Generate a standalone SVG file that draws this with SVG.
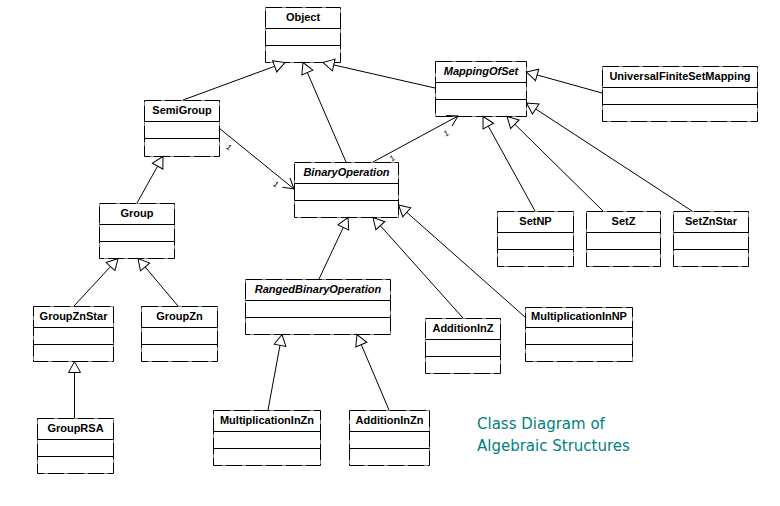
<svg xmlns="http://www.w3.org/2000/svg" width="780" height="506" viewBox="0 0 780 506">
<style>
.box{fill:#fff;stroke:#000;stroke-width:1;stroke-dasharray:17 1 1 1}
.sep{stroke:#000;stroke-width:1}
.lbl{font-family:"Liberation Sans",Arial,sans-serif;font-weight:bold;font-size:11px;text-anchor:middle;fill:#000}
.abs{font-style:italic}
.con{stroke:#000;stroke-width:1;fill:none}
.gen{marker-end:url(#tri)}
.asc{marker-end:url(#open)}
.mul{font-family:"Liberation Sans",Arial,sans-serif;font-size:8px;text-anchor:middle;fill:#000}
.title{font-family:"DejaVu Sans","Verdana",sans-serif;font-size:15px;fill:#008080}
</style>
<defs>
<marker id="tri" markerUnits="userSpaceOnUse" markerWidth="14" markerHeight="14" viewBox="-1 -1 14 14" refX="11" refY="6" orient="auto">
<path d="M0,0 L11,6 L0,12 Z" fill="#fff" stroke="#000" stroke-width="1"/>
</marker>
<marker id="open" markerUnits="userSpaceOnUse" markerWidth="14" markerHeight="14" viewBox="-1 -1 14 14" refX="10" refY="6" orient="auto">
<path d="M0,0 L10,6 L0,12" fill="none" stroke="#000" stroke-width="1"/>
</marker>
</defs>
<rect width="780" height="506" fill="#fff"/>

<g id="Object">
<rect class="box" x="265.5" y="7.5" width="75" height="55"/>
<line class="sep" x1="265.5" y1="28.5" x2="340.5" y2="28.5"/>
<line class="sep" x1="265.5" y1="45.5" x2="340.5" y2="45.5"/>
<text class="lbl" x="303" y="21">Object</text>
</g>
<g id="SemiGroup">
<rect class="box" x="144.5" y="100.5" width="75" height="56"/>
<line class="sep" x1="144.5" y1="121.5" x2="219.5" y2="121.5"/>
<line class="sep" x1="144.5" y1="138.5" x2="219.5" y2="138.5"/>
<text class="lbl" x="182" y="114">SemiGroup</text>
</g>
<g id="BinaryOperation">
<rect class="box" x="294.5" y="162.5" width="104" height="55"/>
<line class="sep" x1="294.5" y1="183.5" x2="398.5" y2="183.5"/>
<line class="sep" x1="294.5" y1="200.5" x2="398.5" y2="200.5"/>
<text class="lbl abs" x="346.5" y="176">BinaryOperation</text>
</g>
<g id="MappingOfSet">
<rect class="box" x="435.5" y="61.5" width="91" height="55"/>
<line class="sep" x1="435.5" y1="82.5" x2="526.5" y2="82.5"/>
<line class="sep" x1="435.5" y1="99.5" x2="526.5" y2="99.5"/>
<text class="lbl abs" x="481" y="75">MappingOfSet</text>
</g>
<g id="UniversalFiniteSetMapping">
<rect class="box" x="602.5" y="66.5" width="155" height="55"/>
<line class="sep" x1="602.5" y1="87.5" x2="757.5" y2="87.5"/>
<line class="sep" x1="602.5" y1="104.5" x2="757.5" y2="104.5"/>
<text class="lbl" x="680" y="80">UniversalFiniteSetMapping</text>
</g>
<g id="SetNP">
<rect class="box" x="497.5" y="211.5" width="76" height="55"/>
<line class="sep" x1="497.5" y1="232.5" x2="573.5" y2="232.5"/>
<line class="sep" x1="497.5" y1="249.5" x2="573.5" y2="249.5"/>
<text class="lbl" x="535.5" y="225">SetNP</text>
</g>
<g id="SetZ">
<rect class="box" x="586.5" y="211.5" width="74" height="55"/>
<line class="sep" x1="586.5" y1="232.5" x2="660.5" y2="232.5"/>
<line class="sep" x1="586.5" y1="249.5" x2="660.5" y2="249.5"/>
<text class="lbl" x="623.5" y="225">SetZ</text>
</g>
<g id="SetZnStar">
<rect class="box" x="673.5" y="211.5" width="75" height="55"/>
<line class="sep" x1="673.5" y1="232.5" x2="748.5" y2="232.5"/>
<line class="sep" x1="673.5" y1="249.5" x2="748.5" y2="249.5"/>
<text class="lbl" x="711" y="225">SetZnStar</text>
</g>
<g id="Group">
<rect class="box" x="99.5" y="203.5" width="75" height="55"/>
<line class="sep" x1="99.5" y1="224.5" x2="174.5" y2="224.5"/>
<line class="sep" x1="99.5" y1="241.5" x2="174.5" y2="241.5"/>
<text class="lbl" x="137" y="217">Group</text>
</g>
<g id="GroupZnStar">
<rect class="box" x="33.5" y="306.5" width="80" height="55"/>
<line class="sep" x1="33.5" y1="327.5" x2="113.5" y2="327.5"/>
<line class="sep" x1="33.5" y1="344.5" x2="113.5" y2="344.5"/>
<text class="lbl" x="73.5" y="320">GroupZnStar</text>
</g>
<g id="GroupZn">
<rect class="box" x="141.5" y="306.5" width="76" height="55"/>
<line class="sep" x1="141.5" y1="327.5" x2="217.5" y2="327.5"/>
<line class="sep" x1="141.5" y1="344.5" x2="217.5" y2="344.5"/>
<text class="lbl" x="179.5" y="320">GroupZn</text>
</g>
<g id="GroupRSA">
<rect class="box" x="37.5" y="418.5" width="76" height="55"/>
<line class="sep" x1="37.5" y1="439.5" x2="113.5" y2="439.5"/>
<line class="sep" x1="37.5" y1="456.5" x2="113.5" y2="456.5"/>
<text class="lbl" x="75.5" y="432">GroupRSA</text>
</g>
<g id="RangedBinaryOperation">
<rect class="box" x="245.5" y="279.5" width="145" height="55"/>
<line class="sep" x1="245.5" y1="300.5" x2="390.5" y2="300.5"/>
<line class="sep" x1="245.5" y1="317.5" x2="390.5" y2="317.5"/>
<text class="lbl abs" x="318" y="293">RangedBinaryOperation</text>
</g>
<g id="AdditionInZ">
<rect class="box" x="425.5" y="318.5" width="75" height="55"/>
<line class="sep" x1="425.5" y1="339.5" x2="500.5" y2="339.5"/>
<line class="sep" x1="425.5" y1="356.5" x2="500.5" y2="356.5"/>
<text class="lbl" x="463" y="332">AdditionInZ</text>
</g>
<g id="MultiplicationInNP">
<rect class="box" x="525.5" y="307.5" width="107" height="54"/>
<line class="sep" x1="525.5" y1="327.5" x2="632.5" y2="327.5"/>
<line class="sep" x1="525.5" y1="344.5" x2="632.5" y2="344.5"/>
<text class="lbl" x="579" y="320">MultiplicationInNP</text>
</g>
<g id="MultiplicationInZn">
<rect class="box" x="213.5" y="410.5" width="107" height="55"/>
<line class="sep" x1="213.5" y1="431.5" x2="320.5" y2="431.5"/>
<line class="sep" x1="213.5" y1="448.5" x2="320.5" y2="448.5"/>
<text class="lbl" x="267" y="424">MultiplicationInZn</text>
</g>
<g id="AdditionInZn">
<rect class="box" x="349.5" y="410.5" width="80" height="55"/>
<line class="sep" x1="349.5" y1="431.5" x2="429.5" y2="431.5"/>
<line class="sep" x1="349.5" y1="448.5" x2="429.5" y2="448.5"/>
<text class="lbl" x="389.5" y="424">AdditionInZn</text>
</g>

<g id="connectors">
<line class="con gen" x1="183" y1="100" x2="285" y2="62.5"/>
<line class="con gen" x1="346" y1="162" x2="303" y2="62.5"/>
<line class="con gen" x1="435" y1="88" x2="323" y2="62.5"/>
<line class="con gen" x1="602" y1="93" x2="526.5" y2="72"/>
<line class="con gen" x1="535" y1="211" x2="483" y2="116.5"/>
<line class="con gen" x1="603" y1="211" x2="507" y2="116.5"/>
<line class="con gen" x1="692" y1="211" x2="526.5" y2="103"/>
<line class="con gen" x1="137" y1="203" x2="163" y2="156.5"/>
<line class="con gen" x1="74" y1="306" x2="118" y2="258.5"/>
<line class="con gen" x1="178" y1="306" x2="138" y2="258.5"/>
<line class="con gen" x1="74.5" y1="418" x2="74.5" y2="361.5"/>
<line class="con gen" x1="319" y1="279" x2="348" y2="217.5"/>
<line class="con gen" x1="463" y1="318" x2="373" y2="217.5"/>
<line class="con gen" x1="525" y1="317" x2="398.5" y2="205"/>
<line class="con gen" x1="268" y1="410" x2="282" y2="334.5"/>
<line class="con gen" x1="389" y1="410" x2="357" y2="334.5"/>
<line class="con asc" x1="219" y1="128" x2="294" y2="189"/>
<line class="con asc" x1="373" y1="162" x2="458" y2="116"/>
<text class="mul" x="229" y="150" transform="rotate(39 229 147)">1</text>
<text class="mul" x="276" y="187" transform="rotate(39 276 184)">1</text>
<text class="mul" x="446" y="136" transform="rotate(-28 446 133)">1</text>
<text class="mul" x="392" y="161" transform="rotate(-28 392 158)">1</text>
</g>

<g id="title">
<text class="title" x="477" y="429">Class Diagram of</text>
<text class="title" x="477" y="451">Algebraic Structures</text>
</g>
</svg>
